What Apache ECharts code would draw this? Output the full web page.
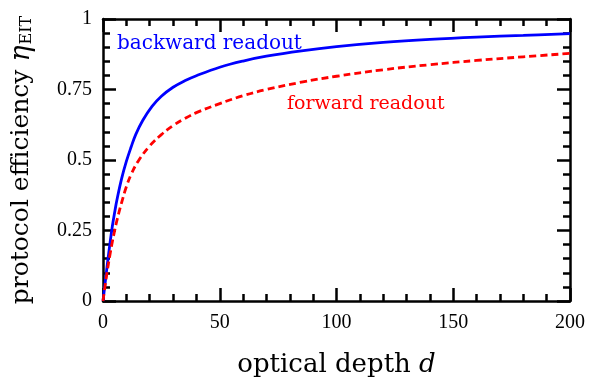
<!DOCTYPE html>
<html>
<head>
<meta charset="utf-8">
<script src="https://cdn.jsdelivr.net/npm/echarts@6/dist/echarts.min.js"></script>
<style>
  html, body { margin: 0; padding: 0; background: #fff; }
  #chart { width: 593px; height: 383px; }
</style>
</head>
<body>
<div id="chart"></div>
<script>
// optical depth d vs efficiency
const backwardD = [0, 1, 2, 3, 4, 5, 6, 8, 10, 12, 14, 17, 21, 25, 30, 35, 40, 50, 60, 70, 85, 100, 120, 140, 160, 180, 200];
const backwardEta = [0, 0.07, 0.14, 0.205, 0.265, 0.315, 0.36, 0.435, 0.495, 0.545, 0.59, 0.64, 0.69, 0.726, 0.758, 0.781, 0.799, 0.829, 0.851, 0.868, 0.887, 0.902, 0.917, 0.928, 0.936, 0.942, 0.948];
const forwardD = [0, 1, 2, 3, 4, 5, 6, 8, 10, 12, 15, 20, 25, 30, 35, 40, 50, 60, 70, 85, 100, 120, 140, 160, 180, 200];
const forwardEta = [0, 0.06, 0.115, 0.165, 0.21, 0.25, 0.287, 0.35, 0.405, 0.448, 0.495, 0.55, 0.59, 0.622, 0.647, 0.668, 0.7, 0.728, 0.75, 0.776, 0.797, 0.82, 0.838, 0.853, 0.866, 0.878];
const yTickLabels = { 0: "0", 0.25: "0.25", 0.5: "0.5", 0.75: "0.75", 1: "1" };

const pairs = (xs, ys) => xs.map((x, i) => [x, ys[i]]);

const tickFont = "Liberation Serif";
const titleFont = "DejaVu Serif";

const baseAxis = {
  axisLine: { show: true, onZero: false, lineStyle: { color: "#000", width: 2.5 } },
  axisTick: { show: true, inside: true, length: 13, lineStyle: { color: "#000", width: 2.5 } },
  minorTick: { show: true, splitNumber: 5, length: 7, lineStyle: { color: "#000", width: 2.5 } },
  splitLine: { show: false },
};

const myChart = echarts.init(document.getElementById("chart"));
const option = {
  animation: false,
  grid: { left: 101, right: 23, top: 19, bottom: 76 },
  xAxis: [
    {
      ...baseAxis,
      type: "value",
      min: 0,
      max: 200,
      interval: 50,
      position: "bottom",
      axisLabel: { color: "#000", fontSize: 20, fontFamily: tickFont, margin: 12 },
      name: "{t|optical depth }{i|d}",
      nameLocation: "middle",
      nameGap: 51,
      nameTextStyle: {
        rich: {
          t: { fontSize: 26, fontFamily: titleFont, color: "#000" },
          i: { fontSize: 26, fontFamily: titleFont, fontStyle: "italic", color: "#000" },
        },
      },
    },
    {
      ...baseAxis,
      type: "value",
      min: 0,
      max: 200,
      interval: 50,
      position: "top",
      axisLabel: { show: false },
    },
  ],
  yAxis: [
    {
      ...baseAxis,
      type: "value",
      min: 0,
      max: 1,
      interval: 0.25,
      position: "left",
      axisLabel: {
        color: "#000",
        fontSize: 20,
        fontFamily: tickFont,
        margin: 11,
        formatter: (v) => yTickLabels[v],
      },
      name: "{t|protocol efficiency }{i|η}{s|EIT}",
      nameLocation: "middle",
      nameRotate: 90,
      nameGap: 68,
      nameTextStyle: {
        rich: {
          t: { fontSize: 25, fontFamily: titleFont, color: "#000" },
          i: { fontSize: 27, fontFamily: titleFont, fontStyle: "italic", color: "#000" },
          s: { fontSize: 16, fontFamily: titleFont, color: "#000", verticalAlign: "bottom", padding: [0, 0, 0, 1] },
        },
      },
    },
    {
      ...baseAxis,
      type: "value",
      min: 0,
      max: 1,
      interval: 0.25,
      position: "right",
      axisLabel: { show: false },
    },
  ],
  graphic: [
    {
      type: "text",
      left: 117,
      top: 34,
      style: { text: "backward readout", fill: "#0000ff", font: "20px 'DejaVu Serif'" },
    },
    {
      type: "text",
      left: 287,
      top: 95,
      style: { text: "forward readout", fill: "#ff0000", font: "19px 'DejaVu Serif'" },
    },
  ],
  series: [
    {
      name: "backward readout",
      type: "line",
      smooth: 0.4,
      showSymbol: false,
      lineStyle: { color: "#0000ff", width: 2.8 },
      data: pairs(backwardD, backwardEta),
    },
    {
      name: "forward readout",
      type: "line",
      smooth: 0.4,
      showSymbol: false,
      lineStyle: { color: "#ff0000", width: 2.8, type: [7, 4] },
      data: pairs(forwardD, forwardEta),
    },
  ],
};
myChart.setOption(option);
</script>
</body>
</html>
